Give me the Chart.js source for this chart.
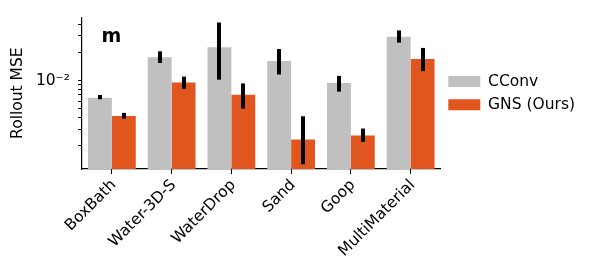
<!DOCTYPE html>
<html><head><meta charset="utf-8">
<script src="https://cdn.jsdelivr.net/npm/chart.js@4/dist/chart.umd.min.js"></script>
<style>html,body{margin:0;padding:0;background:#fff}</style>
</head><body>
<canvas id="c" width="598" height="270"></canvas>
<script>
const categories = ['BoxBath', 'Water-3D-S', 'WaterDrop', 'Sand', 'Goop', 'MultiMaterial'];
const cconvValues = [6.55e-3, 1.77e-2, 2.26e-2, 1.62e-2, 9.4e-3, 2.94e-2];
const cconvLow    = [6.3e-3, 1.54e-2, 1.02e-2, 1.16e-2, 7.6e-3, 2.54e-2];
const cconvHigh   = [7.0e-3, 2.05e-2, 4.17e-2, 2.17e-2, 1.12e-2, 3.43e-2];
const gnsValues   = [4.17e-3, 9.5e-3, 7.05e-3, 2.34e-3, 2.58e-3, 1.70e-2];
const gnsLow      = [3.9e-3, 8.15e-3, 5.0e-3, 1.27e-3, 2.2e-3, 1.26e-2];
const gnsHigh     = [4.5e-3, 1.1e-2, 9.3e-3, 4.14e-3, 3.06e-3, 2.23e-2];
const yTickValues = [2e-3, 3e-3, 4e-3, 5e-3, 6e-3, 7e-3, 8e-3, 9e-3, 1e-2, 2e-2, 3e-2, 4e-2];
const yTickLabelValue = 1e-2;
const yTickLabelText = '10\u207B\u00B2';
const seriesNames = ['CConv', 'GNS (Ours)'];
const panelLabel = 'm';
const yTitle = 'Rollout MSE';

const FONT = 'DejaVu Sans';
const errorLows = [cconvLow, gnsLow];
const errorHighs = [cconvHigh, gnsHigh];

const errorBarPlugin = {
  id: 'errorBars',
  afterDatasetsDraw(chart) {
    const ctx = chart.ctx;
    const yScale = chart.scales.y;
    ctx.save();
    ctx.strokeStyle = '#000';
    ctx.lineWidth = 4;
    chart.data.datasets.forEach((ds, di) => {
      const meta = chart.getDatasetMeta(di);
      meta.data.forEach((bar, i) => {
        const y1 = yScale.getPixelForValue(errorLows[di][i]);
        const y2 = yScale.getPixelForValue(errorHighs[di][i]);
        ctx.beginPath();
        ctx.moveTo(Math.round(bar.x), y1);
        ctx.lineTo(Math.round(bar.x), y2);
        ctx.stroke();
      });
    });
    ctx.restore();
  }
};

const panelLabelPlugin = {
  id: 'panelLabel',
  afterDraw(chart) {
    const ctx = chart.ctx;
    const a = chart.chartArea;
    ctx.save();
    ctx.fillStyle = '#000';
    ctx.font = 'bold 19px "' + FONT + '"';
    ctx.textBaseline = 'alphabetic';
    ctx.textAlign = 'left';
    ctx.fillText(panelLabel, a.left + 19.5, a.top + 25);
    ctx.restore();
  }
};

new Chart(document.getElementById('c'), {
  type: 'bar',
  data: {
    labels: categories,
    datasets: [
      { label: seriesNames[0], data: cconvValues, backgroundColor: '#c0c0c0', borderWidth: 0 },
      { label: seriesNames[1], data: gnsValues, backgroundColor: '#e1561f', borderWidth: 0 }
    ]
  },
  options: {
    responsive: false,
    animation: false,
    devicePixelRatio: 1,
    layout: { padding: { top: 16.5, right: 13, left: 0, bottom: 0 } },
    datasets: { bar: { categoryPercentage: 0.8, barPercentage: 1.0 } },
    plugins: {
      legend: {
        position: 'right',
        fullSize: false,
        labels: {
          boxWidth: 32, boxHeight: 11, padding: 7.8,
          color: '#000',
          font: { family: FONT, size: 15.5 }
        }
      },
      tooltip: { enabled: false }
    },
    scales: {
      x: {
        grid: { display: true, offset: false, drawOnChartArea: false, drawTicks: true, tickLength: 5, color: '#000' },
        border: { display: true, color: '#000', width: 1.2 },
        ticks: {
          color: '#000', font: { family: FONT, size: 15.5 },
          maxRotation: 45, minRotation: 45, autoSkip: false, padding: 2, labelOffset: 2
        },
        afterFit(scale) { scale.height = 101; }
      },
      y: {
        type: 'logarithmic',
        min: 1.13e-3, max: 4.74e-2, bounds: 'data',
        grid: { display: true, drawOnChartArea: false, drawTicks: true, tickLength: 4, color: '#000' },
        border: { display: true, color: '#000', width: 1.2 },
        ticks: {
          color: '#000', font: { family: FONT, size: 15.5 }, padding: 8, autoSkip: false,
          callback: (v) => (Math.abs(v - yTickLabelValue) < 1e-9 ? yTickLabelText : '')
        },
        afterBuildTicks(scale) { scale.ticks = yTickValues.map(v => ({ value: v })); },
        title: { display: true, text: yTitle, color: '#000', font: { family: FONT, size: 15.5 }, padding: { top: 9, bottom: 0 } },
        afterFit(scale) { scale.width = 82; }
      }
    }
  },
  plugins: [errorBarPlugin, panelLabelPlugin]
});
</script>
</body></html>
